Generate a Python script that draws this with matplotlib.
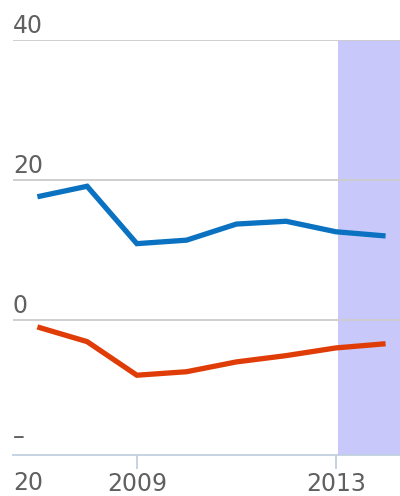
import matplotlib
matplotlib.use("Agg")
import matplotlib.pyplot as plt
import matplotlib.transforms as mtransforms

years = [2007, 2008, 2009, 2010, 2011, 2012, 2013, 2014]
blue_values = [17.6, 19.1, 10.9, 11.4, 13.7, 14.1, 12.6, 12.0]
red_values = [-1.0, -3.1, -7.9, -7.4, -6.0, -5.1, -4.0, -3.4]
ytick_values = [40, 20, 0, -20]
ytick_labels = ["40", "20", "0", "–20"]
xtick_values = [2009, 2013]
xtick_labels = ["2009", "2013"]
shade_start = 2013.05

W, H = 400, 496
fig = plt.figure(figsize=(W / 100, H / 100), dpi=100)
x_left_px, x_right_px = 13, 400
y_top_px, y_bot_px = 40, 455
ax = fig.add_axes([x_left_px / W, 1 - y_bot_px / H,
                   (x_right_px - x_left_px) / W, (y_bot_px - y_top_px) / H])

ax.set_xlim(2006.51, 2014.29)
ax.set_ylim(-19.3, 40)

ax.axvspan(shade_start, 2014.29, color="#c8c8fa", zorder=0, lw=0)

for v in ytick_values:
    if v > -20:
        ax.axhline(v, color="#cccccc", lw=1.3, zorder=1)

ax.plot(years, blue_values, color="#0a72c0", lw=3.8, solid_capstyle="butt",
        solid_joinstyle="miter", zorder=3)
ax.plot(years, red_values, color="#e03c08", lw=3.8, solid_capstyle="butt",
        solid_joinstyle="miter", zorder=3)

for s in ["top", "right", "left"]:
    ax.spines[s].set_visible(False)
ax.spines["bottom"].set_color("#c0d0e0")
ax.spines["bottom"].set_linewidth(1.3)
ax.set_yticks([])
ax.set_xticks(xtick_values)
ax.set_xticklabels(xtick_labels)
ax.tick_params(axis="x", direction="out", length=10, width=1.3, color="#c0d0e0",
               labelsize=17, labelcolor="#606060", pad=2)

trans = mtransforms.blended_transform_factory(ax.transAxes, ax.transData)
ymin = ax.get_ylim()[0]
for v, lab in zip(ytick_values, ytick_labels):
    if v == -20:
        ax.annotate(lab[0], xy=(0, ymin), xycoords=trans, xytext=(0, 6),
                    textcoords="offset pixels", ha="left", va="bottom",
                    fontsize=17, color="#606060", annotation_clip=False)
        ax.annotate(lab[1:], xy=(0, ymin), xycoords=trans, xytext=(0, -16),
                    textcoords="offset pixels", ha="left", va="top",
                    fontsize=17, color="#606060", annotation_clip=False)
    else:
        ax.annotate(lab, xy=(0, v), xycoords=trans, xytext=(0, 7),
                    textcoords="offset pixels", ha="left", va="baseline",
                    fontsize=17, color="#606060", annotation_clip=False)

fig.savefig("out.png", dpi=100)
